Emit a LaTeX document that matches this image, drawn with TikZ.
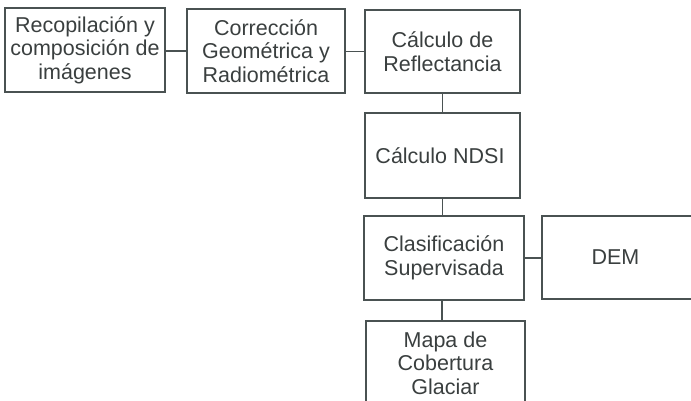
\documentclass[tikz,border=0pt]{standalone}
\usepackage{fontspec}
\setmainfont{Liberation Sans}
\definecolor{txt}{HTML}{3A3F3F}
\definecolor{ln}{HTML}{4A5252}
\begin{document}
\begin{tikzpicture}[x=1pt,y=-1pt,
  boxnode/.style={draw=ln, line width=1.3pt, rectangle, align=center, text=txt,
    font=\fontsize{21.5}{23.5}\selectfont, inner sep=0pt},
  conn/.style={draw=ln, line width=1.3pt}]
\useasboundingbox (0,0) rectangle (691,401);
\clip (0,0) rectangle (691,401);
\node[boxnode, minimum width=160pt, minimum height=84pt] (b1) at (85,50) {Recopilación y\\composición de\\imágenes};
\node[boxnode, minimum width=158pt, minimum height=84pt] (b2) at (266,51) {Corrección\\Geométrica y\\Radiométrica};
\node[boxnode, minimum width=155pt, minimum height=83pt] (b3) at (442.5,51.5) {Cálculo de\\Reflectancia};
\node[boxnode, minimum width=155pt, minimum height=85pt] (b4) at (442.5,155.5) {\hspace*{-5pt}Cálculo NDSI};
\node[boxnode, minimum width=160pt, minimum height=84pt] (b5) at (444,258) {Clasificación\\Supervisada};
\node[boxnode, minimum width=155pt, minimum height=83pt] (dem) at (619.5,257.5) {\hspace*{-8pt}DEM};
\node[boxnode, minimum width=159pt, minimum height=84pt] (b6) at (445.5,363) {Mapa de\\Cobertura\\Glaciar};
\draw[conn] (b2.west) -- (b2.west -| b1.east);
\draw[conn] (b3.west) -- (b3.west -| b2.east);
\draw[conn] (b3.south) -- (b4.north);
\draw[conn] (b4.south) -- (b4.south |- b5.north);
\draw[conn] (b5.east) -- (b5.east -| dem.west);
\draw[conn] ([xshift=-2pt]b5.south) -- ([xshift=-2pt]b5.south |- b6.north);
\end{tikzpicture}
\end{document}
